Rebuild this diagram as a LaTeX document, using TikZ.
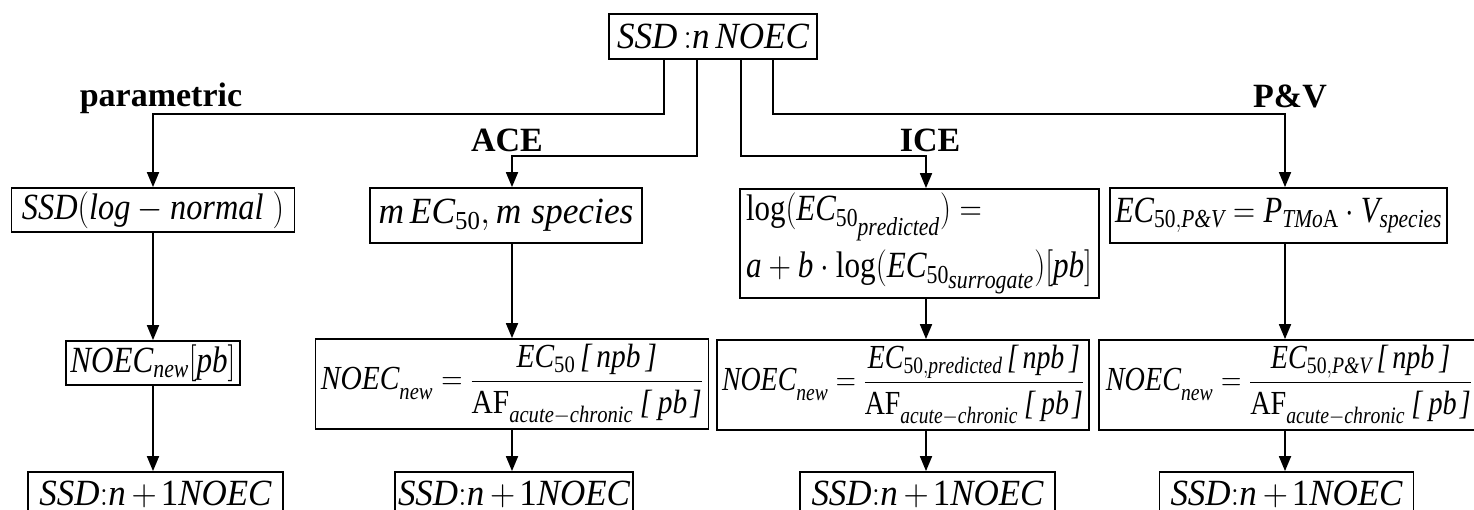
\RequirePackage{fix-cm}
\documentclass[tikz,border=0pt]{standalone}
\usepackage{graphicx}
\usepackage{amsmath}
\usepackage{fontspec}
\setmainfont{Liberation Serif}
\usetikzlibrary{arrows.meta,calc}
\newcommand{\mi}[1]{\mathit{#1}}
\newcommand{\mr}[1]{\mathrm{#1}}
\newcommand{\ib}[1]{\textit{#1}}
\newcommand{\fitw}[2]{\resizebox{#1}{1.12\height}{#2}}
\newcommand{\fitf}[2]{\resizebox{#1}{1.02\height}{#2}}
\newcommand{\lowsub}[1]{\lower4pt\hbox{$\scriptstyle\mi{#1}$}}
\newcommand{\ssdnext}{$\mi{SSD}\mr{:}\mi{n}\mskip3mu{+}\mskip2mu\mr{1}\mi{NOEC}$}
\newcommand{\denomAF}{\mr{AF}_{\lowsub{acute}\lower4pt\hbox{$\scriptstyle-$}\lowsub{chronic}}\mskip4mu\ib{[}\mskip4mu\mi{pb}\mskip2mu\ib{]}}
\begin{document}
\begin{tikzpicture}[x=1pt,y=-1pt,
  box/.style={draw, line width=1.8pt, inner sep=0pt, font=\fontsize{33}{40}\selectfont},
  lbl/.style={font=\fontsize{34}{40}\selectfont\bfseries, anchor=base, inner sep=0pt},
  arr/.style={line width=1.8pt, -{Triangle[length=15pt,width=12pt]}}]
\clip (0,0) rectangle (1474,510);
\fill[white] (0,0) rectangle (1474,510);
% row 0
\node[box, minimum width=208pt, minimum height=45pt] (top) at (713,36.5)
  {\fitw{192pt}{$\mi{SSD}\,\mr{:}\mi{n}\,\mi{NOEC}$}};
% row 1
\node[box, minimum width=283pt, minimum height=44pt] (ssd) at (153,210)
  {\fitw{262pt}{$\mi{SSD}\mr{(}\mi{log}-\mi{normal}\;\mr{)}$}};
\node[box, minimum width=272pt, minimum height=55pt] (ace) at (506,215.5)
  {\fitw{255pt}{$\mi{m}\,\mi{EC}_{\mr{50}}\mr{,}\,\mi{m}\;\mi{species}$}};
\node[box, minimum width=359pt, minimum height=109pt, text width=347pt, align=left,
  font=\fontsize{33}{57}\selectfont] (ice) at (919.5,243.5)
  {\fitw{236pt}{$\mr{log(}\mi{EC}_{\mr{50}_{\scriptstyle\mi{predicted}}}\mr{)}=$}\\
   \fitw{346pt}{$\mi{a}+\mi{b}\cdot\mr{log(}\mi{EC}_{\mr{50}_{\scriptstyle\mi{surrogate}}}\mr{)[}\mi{pb}\mr{]}$}};
\node[box, minimum width=337pt, minimum height=55pt] (pv) at (1278.5,215.5)
  {\fitw{327pt}{$\mi{EC}_{\mr{50,}\ib{P\&V}}=\mi{P}_{\mi{TMo}\mr{A}}\cdot\mi{V}_{\mi{species}}$}};
% row 2
\node[box, minimum width=174pt, minimum height=44pt] (n1) at (153,363)
  {\fitw{165pt}{$\mi{NOEC}_{\mi{new}}\mr{[}\mi{pb}\mr{]}$}};
\node[box, minimum width=393pt, minimum height=90pt] (n2) at (512,384)
  {\fitf{382pt}{$\displaystyle\mi{NOEC}_{\lowsub{new}}=\frac{\mi{EC}_{\mr{50}}\,\ib{[}\,\mi{npb}\,\ib{]}}{\denomAF}$}};
\node[box, minimum width=372pt, minimum height=90pt] (n3) at (903,385)
  {\fitf{362pt}{$\displaystyle\mi{NOEC}_{\lowsub{new}}=\frac{\mi{EC}_{\mr{50,}\mi{predicted}}\,\ib{[}\,\mi{npb}\,\ib{]}}{\denomAF}$}};
\node[box, minimum height=90pt, inner xsep=7pt, anchor=west] (n4) at (1098,385)
  {\fitf{366pt}{$\displaystyle\mi{NOEC}_{\lowsub{new}}=\frac{\mi{EC}_{\mr{50,}\ib{P\&V}}\,\ib{[}\,\mi{npb}\,\ib{]}}{\denomAF}$}};
% row 3
\node[box, minimum width=255pt, minimum height=45pt] (b1) at (155.5,494.5) {\fitw{232pt}{\ssdnext}};
\node[box, minimum width=238pt, minimum height=45pt] (b2) at (514,494.5) {\fitw{232pt}{\ssdnext}};
\node[box, minimum width=255pt, minimum height=45pt] (b3) at (927.5,494.5) {\fitw{232pt}{\ssdnext}};
\node[box, minimum width=254pt, minimum height=45pt] (b4) at (1286.5,494.5) {\fitw{232pt}{\ssdnext}};
% labels
\node[lbl] (lpar) at (161,107) {parametric};
\node[lbl] (lace) at (507,152) {ACE};
\node[lbl] (lice) at (930,152) {ICE};
\node[lbl] (lpv) at (1290,108) {P\&V};
% connectors
\draw[arr] ([xshift=-49pt]top.south) -- ++(0,54) -| (ssd.north);
\draw[arr] ([xshift=-16pt]top.south) -- ++(0,96) -| ([xshift=6pt]ace.north);
\draw[arr] ([xshift=28pt]top.south) -- ++(0,96) -| ([xshift=6.5pt]ice.north);
\draw[arr] ([xshift=60pt]top.south) -- ++(0,54) -| ([xshift=6.5pt]pv.north);
\draw[arr] (ssd.south) -- (ssd.south |- n1.north);
\draw[arr] (n1.south) -- (n1.south |- b1.north);
\draw[arr] ([xshift=6pt]ace.south) -- ([xshift=6pt]ace.south |- n2.north);
\draw[arr] (n2.south) -- (n2.south |- b2.north);
\draw[arr] ([xshift=6.5pt]ice.south) -- ([xshift=6.5pt]ice.south |- n3.north);
\draw[arr] ([xshift=23pt]n3.south) -- ([xshift=23pt]n3.south |- b3.north);
\draw[arr] ([xshift=6.5pt]pv.south) -- ([xshift=6.5pt]pv.south |- n4.north);
\draw[arr] (n4.south -| pv.south) ++(6.5,0) -- ([xshift=6.5pt]pv.south |- b4.north);
\end{tikzpicture}
\end{document}
